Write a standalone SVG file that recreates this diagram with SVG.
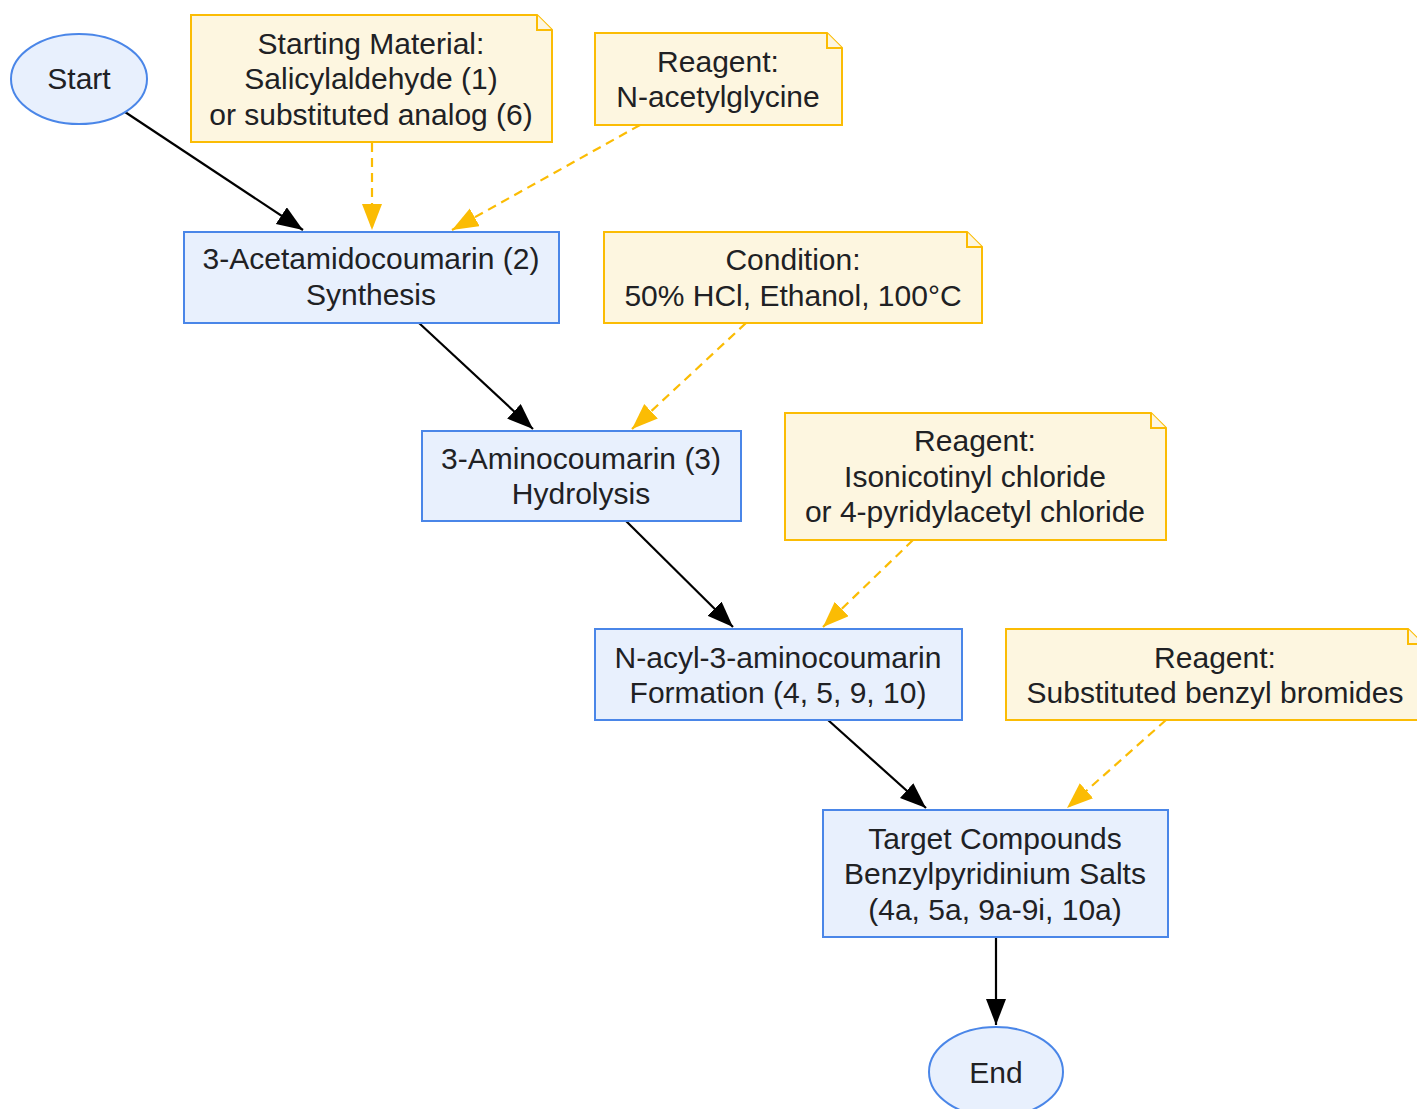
<svg xmlns="http://www.w3.org/2000/svg" width="1417" height="1109" viewBox="0 0 1417 1109">
<style>
text{font-family:"Liberation Sans",Arial,sans-serif;font-size:30px;fill:#202124;text-anchor:middle}
.proc{fill:#e8f0fd;stroke:#4a86e8;stroke-width:2}
.note{fill:#fdf6e0;stroke:#fbbc04;stroke-width:2}
.e{fill:none;stroke:#000;stroke-width:2.2}
.d{fill:none;stroke:#fbbc04;stroke-width:2.2;stroke-dasharray:9,6}
</style>
<defs>
<marker id="ab" markerUnits="userSpaceOnUse" markerWidth="28" markerHeight="22" refX="26" refY="10" orient="auto"><path d="M0,0 L26,10 L0,20 Z" fill="#000"/></marker>
<marker id="ay" markerUnits="userSpaceOnUse" markerWidth="28" markerHeight="22" refX="26" refY="10" orient="auto"><path d="M0,0 L26,10 L0,20 Z" fill="#fbbc04"/></marker>
</defs>
<rect width="1417" height="1109" fill="#fff"/>
<g id="edges">
<path class="e" d="M125,112 L303,230" marker-end="url(#ab)"/>
<path class="d" d="M372,143 L372,230" marker-end="url(#ay)"/>
<path class="d" d="M640,125 L452,230" marker-end="url(#ay)"/>
<path class="e" d="M419,323 L533,429" marker-end="url(#ab)"/>
<path class="d" d="M746,323 L632,429" marker-end="url(#ay)"/>
<path class="e" d="M626,521 L733,627" marker-end="url(#ab)"/>
<path class="d" d="M913,540 L823,627" marker-end="url(#ay)"/>
<path class="e" d="M828,720 L926,808" marker-end="url(#ab)"/>
<path class="d" d="M1166,720 L1067,808" marker-end="url(#ay)"/>
<path class="e" d="M996,937 L996,1025" marker-end="url(#ab)"/>
</g>
<g id="start">
<ellipse class="proc" cx="79" cy="79" rx="68" ry="45"/>
<text x="79" y="89">Start</text>
</g>
<g id="note_start_material">
<path class="note" d="M191,15 L537,15 L552,30 L552,142 L191,142 Z"/>
<path class="note" d="M537,15 L537,30 L552,30" fill="none"/>
<text x="371" y="54">Starting Material:</text>
<text x="371" y="89">Salicylaldehyde (1)</text>
<text x="371" y="125">or substituted analog (6)</text>
</g>
<g id="note_acetylglycine">
<path class="note" d="M595,33 L827,33 L842,48 L842,125 L595,125 Z"/>
<path class="note" d="M827,33 L827,48 L842,48" fill="none"/>
<text x="718" y="72">Reagent:</text>
<text x="718" y="107">N-acetylglycine</text>
</g>
<g id="acetamidocoumarin">
<rect class="proc" x="184" y="232" width="375" height="91"/>
<text x="371" y="269">3-Acetamidocoumarin (2)</text>
<text x="371" y="305">Synthesis</text>
</g>
<g id="note_condition">
<path class="note" d="M604,232 L967,232 L982,247 L982,323 L604,323 Z"/>
<path class="note" d="M967,232 L967,247 L982,247" fill="none"/>
<text x="793" y="270">Condition:</text>
<text x="793" y="306">50% HCl, Ethanol, 100°C</text>
</g>
<g id="aminocoumarin">
<rect class="proc" x="422" y="431" width="319" height="90"/>
<text x="581" y="469">3-Aminocoumarin (3)</text>
<text x="581" y="504">Hydrolysis</text>
</g>
<g id="note_isonicotinyl">
<path class="note" d="M785,413 L1151,413 L1166,428 L1166,540 L785,540 Z"/>
<path class="note" d="M1151,413 L1151,428 L1166,428" fill="none"/>
<text x="975" y="451">Reagent:</text>
<text x="975" y="487">Isonicotinyl chloride</text>
<text x="975" y="522">or 4-pyridylacetyl chloride</text>
</g>
<g id="nacyl">
<rect class="proc" x="595" y="629" width="367" height="91"/>
<text x="778" y="668">N-acyl-3-aminocoumarin</text>
<text x="778" y="703">Formation (4, 5, 9, 10)</text>
</g>
<g id="note_benzyl">
<path class="note" d="M1006,629 L1408,629 L1423,644 L1423,720 L1006,720 Z"/>
<path class="note" d="M1408,629 L1408,644 L1423,644" fill="none"/>
<text x="1215" y="668">Reagent:</text>
<text x="1215" y="703">Substituted benzyl bromides</text>
</g>
<g id="target">
<rect class="proc" x="823" y="810" width="345" height="127"/>
<text x="995" y="849">Target Compounds</text>
<text x="995" y="884">Benzylpyridinium Salts</text>
<text x="995" y="920">(4a, 5a, 9a-9i, 10a)</text>
</g>
<g id="end">
<ellipse class="proc" cx="996" cy="1072" rx="67" ry="45"/>
<text x="996" y="1083">End</text>
</g>
</svg>
